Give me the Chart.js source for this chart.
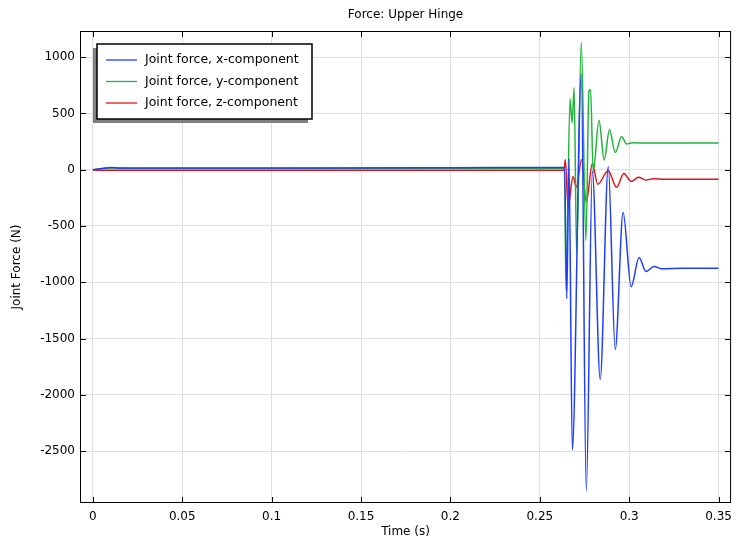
<!DOCTYPE html>
<html>
<head>
<meta charset="utf-8">
<script src="https://cdn.jsdelivr.net/npm/chart.js@4.4.1/dist/chart.umd.min.js"></script>
<style>
  html, body { margin: 0; padding: 0; background: #fff; }
</style>
</head>
<body>
<canvas id="chartForce" width="739" height="542"></canvas>
<script>
// time (s) and force (N)
const tX = [0, 0.005, 0.01, 0.015, 0.03, 0.1, 0.2, 0.2638, 0.2651, 0.2663, 0.2682, 0.2732, 0.2760, 0.2794, 0.2838, 0.2883, 0.2922, 0.2966, 0.3011, 0.3055, 0.3094, 0.3139, 0.3183, 0.33, 0.35];
const fX = [0, 10, 20, 16, 15, 16, 18, 20, -1145, 100, -2490, 851, -2855, -15, -1862, 27, -1596, -381, -1040, -780, -904, -860, -880, -875, -875];

const tY = [0, 0.005, 0.01, 0.015, 0.03, 0.1, 0.2, 0.2638, 0.2647, 0.2669, 0.2681, 0.2692, 0.2706, 0.2732, 0.2758, 0.2775, 0.2784, 0.2799, 0.2831, 0.2860, 0.2890, 0.2922, 0.2958, 0.2986, 0.3017, 0.31, 0.35];
const fY = [0, 8, 16, 12, 10, 11, 12, 14, -1070, 630, 417, 727, -745, 1135, -630, 700, 709, -20, 440, 86, 355, 153, 293, 228, 240, 236, 236];

const tZ = [0, 0.1, 0.2, 0.2635, 0.2643, 0.2658, 0.2686, 0.2704, 0.2734, 0.2760, 0.2794, 0.2824, 0.2883, 0.2929, 0.2970, 0.3011, 0.3053, 0.3094, 0.3133, 0.32, 0.35];
const fZ = [-4, -5, -6, -6, 90, -334, -60, -157, 90, -290, 55, -130, -9, -157, -33, -104, -68, -92, -80, -86, -86];

const seriesNames = ['Joint force, x-component', 'Joint force, y-component', 'Joint force, z-component'];
const seriesColors = ['#1f3dff', '#22b53c', '#e0161b'];

const xTicks = [0, 0.05, 0.1, 0.15, 0.2, 0.25, 0.3, 0.35];
const yTicks = [-2500, -2000, -1500, -1000, -500, 0, 500, 1000];

const FONT = 'DejaVu Sans';

function pts(ts, vs) {
  return ts.map((t, i) => ({ x: t, y: vs[i] }));
}

// frame, inward tick marks, title and boxed legend like the original
const framePlugin = {
  id: 'frame',
  afterDraw(chart) {
    const c = chart.ctx;
    const a = chart.chartArea;
    const sx = chart.scales.x, sy = chart.scales.y;
    c.save();
    c.strokeStyle = '#000';
    c.lineWidth = 1;
    c.strokeRect(a.left + 0.5, a.top + 0.5, a.right - a.left - 1, a.bottom - a.top - 1);
    c.beginPath();
    xTicks.forEach(v => {
      const p = Math.round(sx.getPixelForValue(v)) + 0.5;
      c.moveTo(p, a.bottom); c.lineTo(p, a.bottom - 6);
      c.moveTo(p, a.top); c.lineTo(p, a.top + 6);
    });
    yTicks.forEach(v => {
      const p = Math.round(sy.getPixelForValue(v)) + 0.5;
      c.moveTo(a.left, p); c.lineTo(a.left + 6, p);
      c.moveTo(a.right, p); c.lineTo(a.right - 6, p);
    });
    c.stroke();

    // title
    c.fillStyle = '#000';
    c.font = '12px ' + FONT;
    c.textAlign = 'center';
    c.textBaseline = 'middle';
    c.fillText('Force: Upper Hinge', (a.left + a.right) / 2, 15);

    // legend
    const lx = 97, ly = 44, lw = 215, lh = 75;
    c.fillStyle = '#808080';
    c.fillRect(lx - 4, ly + 4, lw, lh);
    c.fillStyle = '#fff';
    c.fillRect(lx, ly, lw, lh);
    c.strokeStyle = '#000';
    c.lineWidth = 1.5;
    c.strokeRect(lx, ly, lw, lh);
    c.textAlign = 'left';
    c.font = '12.5px ' + FONT;
    chart.data.datasets.forEach((ds, i) => {
      const yy = 60 + i * 21.5;
      c.strokeStyle = ds.borderColor;
      c.lineWidth = 1.3;
      c.beginPath();
      c.moveTo(106, yy); c.lineTo(137, yy);
      c.stroke();
      c.fillStyle = '#000';
      c.fillText(ds.label, 145, yy);
    });
    c.restore();
  }
};

const ctx = document.getElementById('chartForce');

new Chart(ctx, {
  type: 'line',
  data: {
    datasets: [
      { label: seriesNames[0], data: pts(tX, fX), borderColor: seriesColors[0] },
      { label: seriesNames[1], data: pts(tY, fY), borderColor: seriesColors[1] },
      { label: seriesNames[2], data: pts(tZ, fZ), borderColor: seriesColors[2] }
    ]
  },
  options: {
    responsive: false,
    animation: false,
    devicePixelRatio: 1,
    layout: { padding: { top: 31, right: 4 } },
    elements: {
      point: { radius: 0 },
      line: { borderWidth: 1.5, cubicInterpolationMode: 'monotone', fill: false }
    },
    plugins: {
      legend: { display: false },
      tooltip: { enabled: false }
    },
    scales: {
      x: {
        type: 'linear',
        min: -0.0072,
        max: 0.357,
        afterBuildTicks: s => { s.ticks = xTicks.map(v => ({ value: v })); },
        afterFit: s => { s.height = 39; },
        grid: { color: '#dedede', drawTicks: false },
        border: { display: false },
        ticks: { color: '#000', font: { family: FONT, size: 12 }, padding: 7, maxRotation: 0, callback: v => String(v) },
        title: { display: true, text: 'Time (s)', color: '#000', font: { family: FONT, size: 12 }, padding: { top: 0, bottom: 3 } }
      },
      y: {
        type: 'linear',
        min: -2961,
        max: 1232,
        afterBuildTicks: s => { s.ticks = yTicks.map(v => ({ value: v })); },
        afterFit: s => { s.width = 80; },
        grid: { color: '#dedede', drawTicks: false },
        border: { display: false },
        ticks: { color: '#000', font: { family: FONT, size: 12 }, padding: 5, callback: v => String(v) },
        title: { display: true, text: 'Joint Force (N)', color: '#000', font: { family: FONT, size: 12 }, padding: { top: 10, bottom: 0 } }
      }
    }
  },
  plugins: [framePlugin]
});
</script>
</body>
</html>
